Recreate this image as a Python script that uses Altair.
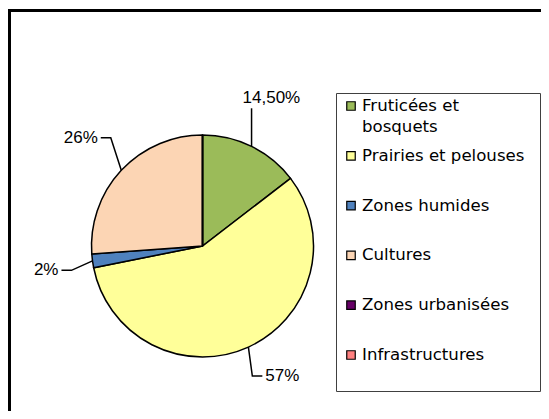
import math
import textwrap
import altair as alt
import pandas as pd

# ---- data ----
categories = ["Fruticées et bosquets", "Prairies et pelouses", "Zones humides",
              "Cultures", "Zones urbanisées", "Infrastructures"]
shares = [14.5, 57, 2, 26, 0, 0]
colors = ["#9BBB59", "#FFFF99", "#4F81BD", "#FCD5B4", "#660066", "#FF8080"]

# ---- layout (pixels) ----
W, H = 533, 403
CX, CY, R = 194.5, 238.0, 111.0
HOOK = 10       # horizontal part of the leader line, px

xscale = alt.Scale(domain=[-CX / R, (W - CX) / R], nice=False, zero=False)
yscale = alt.Scale(domain=[-(H - CY) / R, CY / R], nice=False, zero=False)
cscale = alt.Scale(domain=categories, range=colors)


def fmt(v):
    if float(v).is_integer():
        return f"{int(v)}%"
    return f"{v:.2f}%".replace(".", ",")


pie_df = pd.DataFrame({"cat": categories, "share": shares, "idx": range(len(categories))})

# leader lines in the style of a spreadsheet "best fit" label layout
total = sum(shares)
lines, labels = [], []
cum = 0.0
for c, v in zip(categories, shares):
    if v > 0:
        a = 2 * math.pi * (cum + v / 2) / total
        s, co = math.sin(a), math.cos(a)
        side = 1 if s >= 0 else -1
        L = (22 + 18 * max(co, 0) + 8 * max(-co, 0)) / R
        if co > 0.85:
            # near the top: straight up, label sits above the line
            ex, ey = s, co + L
            lines += [dict(cat=c, seq=0, x=s, y=co), dict(cat=c, seq=1, x=ex, y=ey)]
            labels.append(dict(cat=c, text=fmt(v), x=ex - 9 / R, y=ey + 5 / R, side="t"))
        else:
            dx, dy = 0.3 * s, co
            n = math.hypot(dx, dy)
            ex, ey = s + L * dx / n, co + L * dy / n
            hx = ex + side * HOOK / R
            lines += [dict(cat=c, seq=0, x=s, y=co),
                      dict(cat=c, seq=1, x=ex, y=ey),
                      dict(cat=c, seq=2, x=hx, y=ey)]
            labels.append(dict(cat=c, text=fmt(v), x=hx + side * 3 / R, y=ey,
                               side="r" if side > 0 else "l"))
    cum += v
line_df = pd.DataFrame(lines)
lab_df = pd.DataFrame(labels)

arc = alt.Chart(pie_df).mark_arc(outerRadius=R, stroke="black", strokeWidth=1.5).encode(
    theta=alt.Theta("share:Q", stack=True),
    order=alt.Order("idx:Q"),
    color=alt.Color("cat:N", scale=cscale, legend=None),
    x=alt.XDatum(0, type="quantitative", scale=xscale, axis=None),
    y=alt.YDatum(0, type="quantitative", scale=yscale, axis=None),
)

leaders = alt.Chart(line_df).mark_line(color="black", strokeWidth=1.5).encode(
    x=alt.X("x:Q", scale=xscale, axis=None),
    y=alt.Y("y:Q", scale=yscale, axis=None),
    detail="cat:N",
    order="seq:Q",
)

txt_style = dict(font="Liberation Sans", fontSize=17, color="black")
enc = dict(x=alt.X("x:Q", scale=xscale, axis=None), y=alt.Y("y:Q", scale=yscale, axis=None),
           text="text:N")
lab_r = alt.Chart(lab_df).transform_filter("datum.side == 'r'").mark_text(
    align="left", baseline="middle", **txt_style).encode(**enc)
lab_l = alt.Chart(lab_df).transform_filter("datum.side == 'l'").mark_text(
    align="right", baseline="middle", **txt_style).encode(**enc)
lab_t = alt.Chart(lab_df).transform_filter("datum.side == 't'").mark_text(
    align="left", baseline="alphabetic", **txt_style).encode(**enc)

main = alt.layer(arc, leaders, lab_r, lab_l, lab_t)

# ---- legend ----
leg_df = pd.DataFrame({"cat": categories, "lbl": [textwrap.fill(c, 20) for c in categories]})
ly = alt.Y("cat:N", sort=categories, scale=alt.Scale(range=[98, 347], padding=0), axis=None)

one = pd.DataFrame({"a": [0]})
box = alt.Chart(one).mark_rect(fill="white", stroke="#404040", strokeWidth=1).encode(
    x=alt.value(328.5), x2=alt.value(532.5), y=alt.value(85.5), y2=alt.value(383.5))
sym = alt.Chart(leg_df).mark_square(size=72, stroke="black", strokeWidth=1.2, opacity=1).encode(
    x=alt.value(343), y=ly, color=alt.Color("cat:N", scale=cscale, legend=None))
leg_txt = alt.Chart(leg_df).mark_text(align="left", baseline="top", dy=-8, font="DejaVu Sans",
                                      fontSize=16.6, lineBreak="\n", lineHeight=21,
                                      color="black").encode(
    x=alt.value(354), y=ly, text="lbl:N")
legend = alt.layer(box, sym, leg_txt)

frame = alt.Chart(one).mark_rect(fillOpacity=0, stroke="black", strokeWidth=3).encode(
    x=alt.value(1.5), x2=alt.value(800), y=alt.value(2.5), y2=alt.value(800))

chart = alt.layer(frame, main, legend).resolve_scale(
    x="independent", y="independent"
).properties(
    width=W, height=H, autosize="none", padding=0, background="white"
).configure_view(stroke=None)

chart.save("out.html", embed_options={"renderer": "svg", "actions": False})
